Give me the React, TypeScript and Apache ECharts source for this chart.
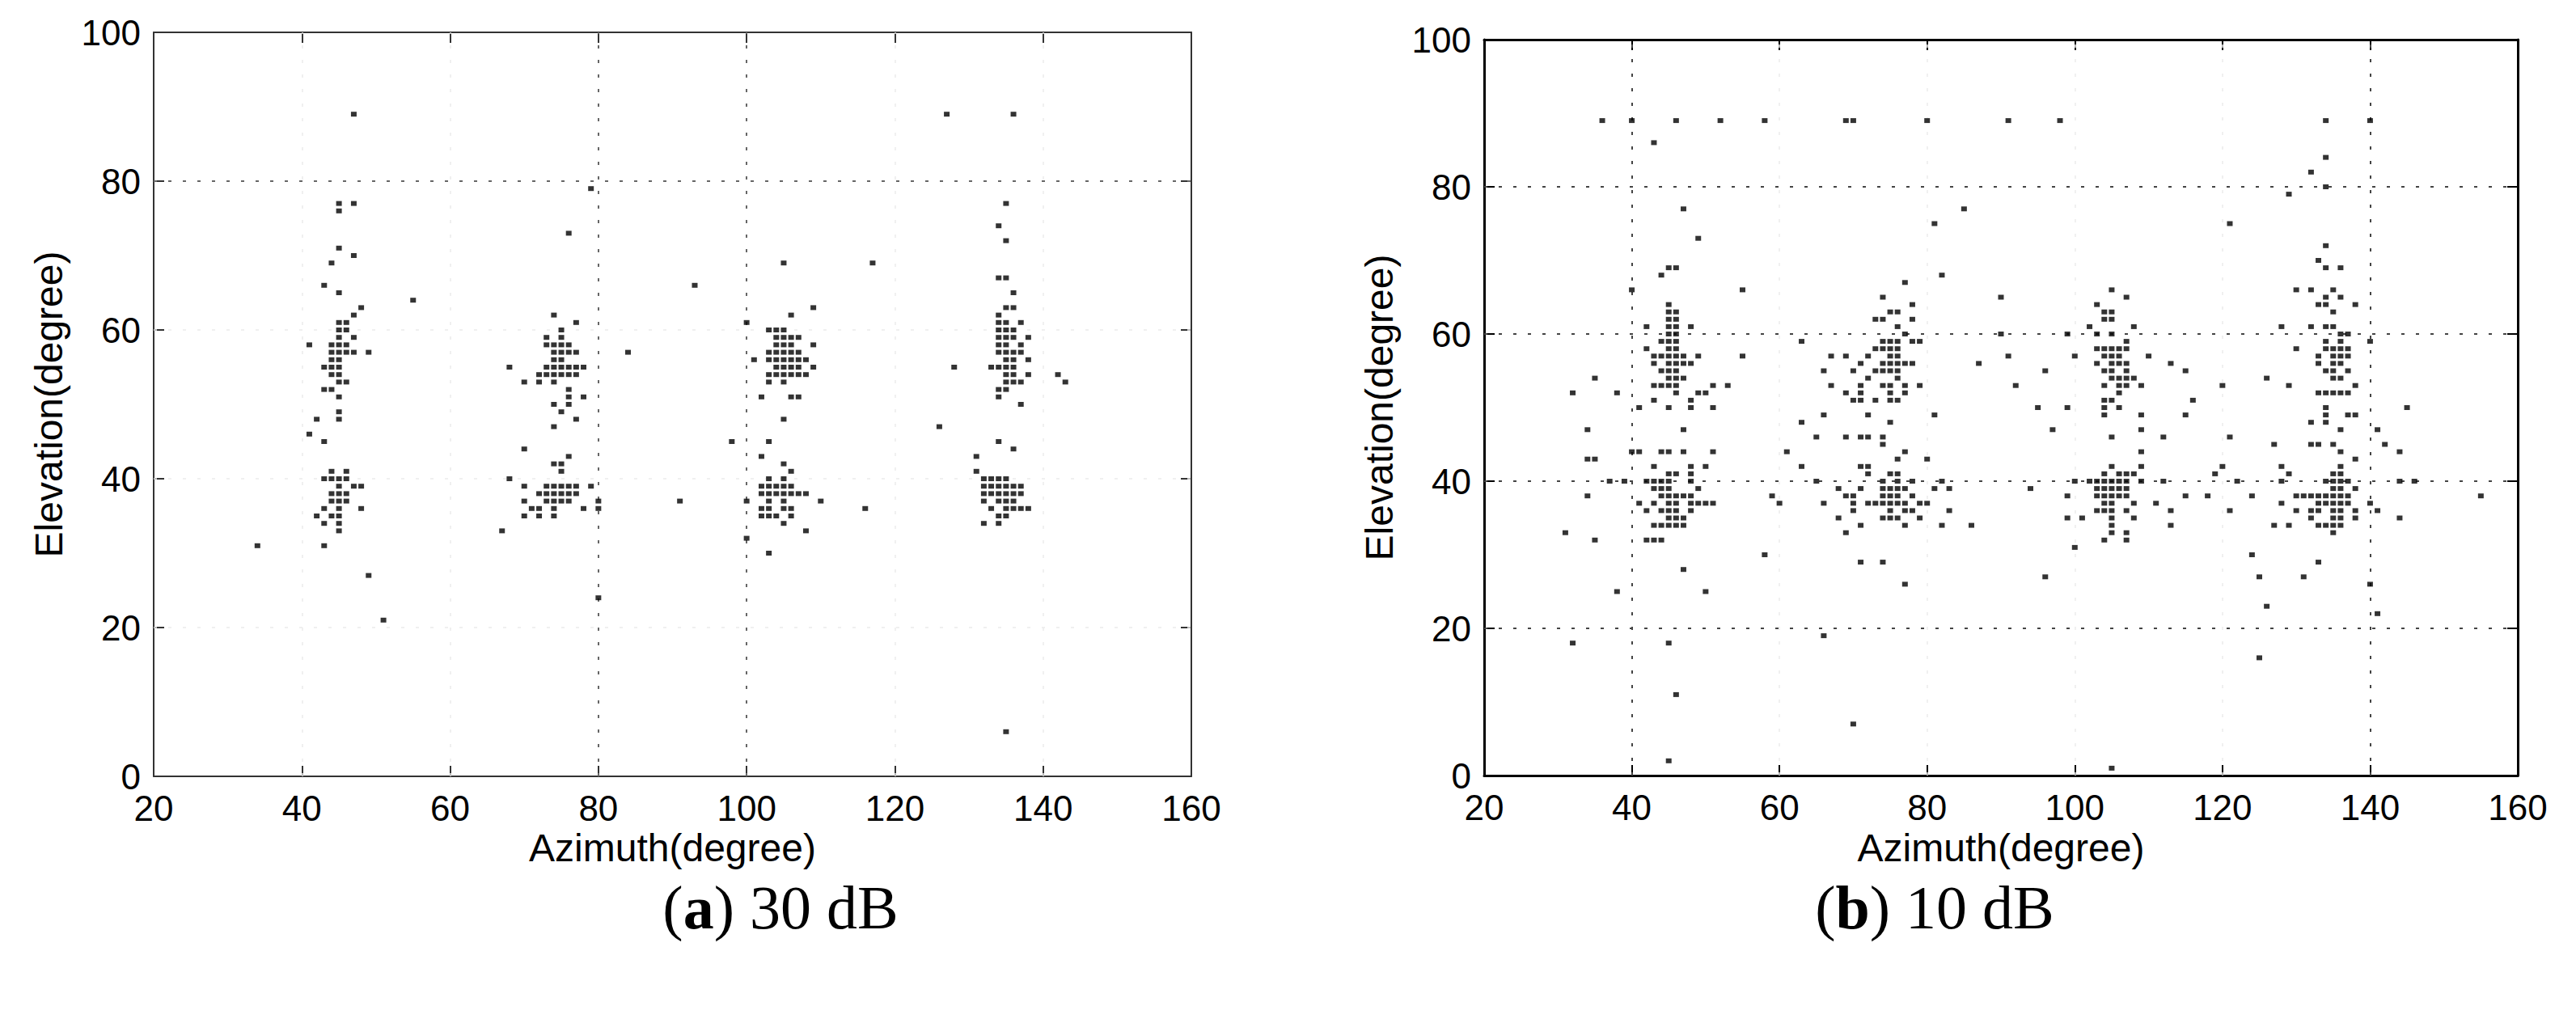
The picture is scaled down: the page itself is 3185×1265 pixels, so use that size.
import React, { useEffect, useRef } from "react";
import * as echarts from "echarts";

// ---------- data ----------
const azimuthTicks = [20, 40, 60, 80, 100, 120, 140, 160];
const elevationTicks = [0, 20, 40, 60, 80, 100];
const xAxisName = "Azimuth(degree)";
const yAxisName = "Elevation(degree)";
const captionLetters = ["a", "b"];
const captionSnr = ["30 dB", "10 dB"];

// (a) 30 dB : [azimuth, elevation]
const points30dB: number[][] = [
  [47,89],[45,77],[45,76],[47,77],[45,71],[47,70],[44,69],[43,66],[45,65],[55,64],[48,63],[47,62],[45,61],[46,61],[45,60],[46,60],[45,59],[47,59],[41,58],[44,58],[45,58],[46,58],[44,57],[45,57],[46,57],[47,57],[49,57],[44,56],[45,56],[43,55],[44,55],[45,55],[44,54],[45,54],[45,53],[46,53],[43,52],[44,52],[45,51],[45,49],[45,48],[42,48],[41,46],[43,45],[44,41],[46,41],[43,40],[44,40],[45,40],[46,40],[45,39],[47,39],[48,39],[44,38],[45,38],[46,38],[44,37],[45,37],[46,37],[43,36],[45,36],[48,36],[42,35],[44,35],[45,35],[43,34],[45,34],[45,33],[34,31],[43,31],[49,27],[51,21],
  [79,79],[76,73],[93,66],[74,62],[77,61],[75,60],[73,59],[75,59],[73,58],[74,58],[75,58],[76,58],[74,57],[75,57],[76,57],[77,57],[84,57],[74,56],[75,56],[68,55],[73,55],[74,55],[75,55],[76,55],[77,55],[78,55],[72,54],[73,54],[74,54],[75,54],[76,54],[77,54],[70,53],[72,53],[74,53],[76,52],[76,51],[78,51],[74,50],[76,50],[75,49],[77,48],[74,47],[70,44],[76,43],[74,42],[75,42],[75,41],[68,40],[70,39],[73,39],[74,39],[75,39],[76,39],[77,39],[79,39],[72,38],[73,38],[74,38],[75,38],[76,38],[77,38],[70,37],[73,37],[74,37],[75,37],[76,37],[80,37],[91,37],[71,36],[72,36],[74,36],[78,36],[80,36],[70,35],[72,35],[74,35],[67,33],[80,24],
  [127,89],[105,69],[117,69],[109,63],[106,62],[100,61],[103,60],[104,60],[105,60],[104,59],[105,59],[106,59],[107,59],[109,58],[104,58],[105,58],[106,58],[103,57],[104,57],[105,57],[106,57],[107,57],[101,56],[103,56],[104,56],[105,56],[106,56],[107,56],[108,56],[104,55],[105,55],[106,55],[107,55],[109,55],[103,54],[104,54],[105,54],[106,54],[107,54],[108,54],[103,53],[105,53],[102,51],[106,51],[107,51],[105,48],[126,47],[98,45],[103,45],[102,43],[105,42],[106,41],[103,40],[105,40],[102,39],[103,39],[104,39],[105,39],[106,39],[102,38],[103,38],[104,38],[105,38],[106,38],[107,38],[108,38],[100,37],[103,37],[105,37],[110,37],[102,36],[103,36],[105,36],[106,36],[116,36],[102,35],[103,35],[104,35],[106,35],[105,34],[108,33],[100,32],[103,30],
  [136,89],[135,77],[134,74],[135,72],[134,67],[135,67],[136,65],[135,63],[136,63],[134,62],[134,61],[135,61],[137,61],[134,60],[135,60],[136,60],[134,59],[135,59],[136,59],[138,59],[134,58],[135,58],[137,58],[134,57],[135,57],[136,57],[137,57],[135,56],[136,56],[138,56],[128,55],[133,55],[134,55],[135,55],[136,55],[135,54],[136,54],[138,54],[142,54],[135,53],[136,53],[137,53],[143,53],[134,52],[135,52],[134,51],[137,50],[134,45],[136,44],[131,43],[131,41],[132,40],[133,40],[134,40],[135,40],[132,39],[133,39],[134,39],[135,39],[136,39],[137,39],[132,38],[133,38],[134,38],[135,38],[136,38],[137,38],[132,37],[134,37],[135,37],[136,37],[133,36],[135,36],[136,36],[137,36],[138,36],[134,35],[135,35],[132,34],[134,34],[135,6],
];

// (b) 10 dB : [azimuth, elevation]
const points10dB: number[][] = [
  [36,89],[40,89],[46,89],[52,89],[58,89],[43,86],[47,77],[49,73],[45,69],[46,69],[44,68],[40,66],[55,66],
  [45,64],[45,63],[46,63],[45,62],[46,62],[42,61],[45,61],[46,61],[48,61],[45,60],[46,60],[44,59],[45,59],[46,59],[63,59],
  [42,58],[45,58],[46,58],[43,57],[44,57],[45,57],[46,57],[47,57],[49,57],[55,57],[43,56],[45,56],[46,56],[47,56],[48,56],
  [44,55],[45,55],[46,55],[35,54],[45,54],[46,54],[47,54],[43,53],[44,53],[45,53],[46,53],[51,53],[53,53],
  [32,52],[38,52],[46,52],[49,52],[50,52],[43,51],[48,51],[41,50],[45,50],[48,50],[51,50],
  [34,47],[47,47],[40,44],[41,44],[44,44],[45,44],[47,44],[51,44],[61,44],[34,43],[35,43],[43,42],[48,42],[50,42],
  [45,41],[46,41],[48,41],[37,40],[39,40],[42,40],[43,40],[44,40],[45,40],[48,40],[43,39],[44,39],[45,39],[49,39],
  [34,38],[44,38],[45,38],[46,38],[47,38],[48,38],[59,38],[41,37],[43,37],[45,37],[46,37],[48,37],[49,37],[50,37],[51,37],[60,37],
  [42,36],[44,36],[45,36],[46,36],[48,36],[45,35],[46,35],[47,35],[43,34],[44,34],[45,34],[46,34],[47,34],[31,33],
  [35,32],[42,32],[43,32],[44,32],[58,30],[47,28],[38,25],[50,25],[32,18],[45,18],[46,11],[45,2],
  [69,89],[70,89],[80,89],[91,89],[98,89],[85,77],[81,75],[82,68],[77,67],[74,65],[90,65],[105,66],[103,64],[107,65],
  [78,64],[75,63],[76,63],[104,63],[105,63],[73,62],[74,62],[78,62],[104,62],[105,62],[76,61],[102,61],[108,61],
  [77,60],[90,60],[99,60],[103,60],[105,60],[74,59],[75,59],[76,59],[78,59],[79,59],[107,59],
  [73,58],[74,58],[75,58],[76,58],[103,58],[104,58],[105,58],[106,58],[107,58],
  [67,57],[69,57],[72,57],[75,57],[76,57],[91,57],[100,57],[104,57],[105,57],[106,57],
  [71,56],[74,56],[75,56],[76,56],[77,56],[78,56],[87,56],[103,56],[105,56],[106,56],[107,56],
  [66,55],[70,55],[73,55],[74,55],[75,55],[76,55],[96,55],[104,55],[105,55],[107,55],
  [72,54],[76,54],[105,54],[106,54],[107,54],[108,54],
  [67,53],[71,53],[74,53],[75,53],[77,53],[79,53],[92,53],[104,53],[106,53],[107,53],[109,53],
  [69,52],[71,52],[75,52],[77,52],[106,52],[70,51],[71,51],[73,51],[75,51],[76,51],[104,51],[105,51],
  [95,50],[99,50],[104,50],[106,50],
  [66,49],[72,49],[81,49],[104,49],[109,49],[63,48],[75,48],[97,47],[109,47],
  [65,46],[69,46],[71,46],[72,46],[74,46],[105,46],[74,45],[77,44],[109,44],[76,43],[80,43],
  [63,42],[71,42],[72,42],[105,42],[109,42],[72,41],[75,41],[76,41],[104,41],[106,41],[107,41],[108,41],
  [65,40],[74,40],[76,40],[78,40],[82,40],[100,40],[102,40],[103,40],[104,40],[105,40],[106,40],[107,40],[109,40],
  [68,39],[71,39],[74,39],[75,39],[76,39],[77,39],[81,39],[83,39],[94,39],[103,39],[104,39],[105,39],[106,39],[107,39],
  [69,38],[70,38],[74,38],[75,38],[76,38],[78,38],[99,38],[103,38],[104,38],[105,38],[106,38],[107,38],
  [66,37],[70,37],[72,37],[73,37],[74,37],[75,37],[76,37],[77,37],[79,37],[80,37],[104,37],[105,37],[108,37],
  [70,36],[75,36],[77,36],[78,36],[83,36],[103,36],[104,36],[105,36],[107,36],
  [68,35],[74,35],[75,35],[76,35],[79,35],[99,35],[101,35],[105,35],[108,35],
  [71,34],[77,34],[82,34],[86,34],[105,34],[69,33],[105,33],[107,33],[104,32],[107,32],[100,31],
  [71,29],[74,29],[96,27],[77,26],[66,19],[70,7],[105,1],
  [134,89],[140,89],[134,84],[132,82],[134,80],[129,79],[121,75],[134,72],[133,70],[134,69],[136,69],
  [130,66],[132,66],[135,66],[134,65],[136,65],[133,64],[134,64],[138,64],[135,63],
  [128,61],[132,61],[134,61],[135,61],[136,60],[137,60],[134,59],[136,59],[140,59],
  [130,58],[134,58],[135,58],[136,58],[137,58],[110,57],[133,57],[135,57],[136,57],[137,57],
  [113,56],[133,56],[135,56],[136,56],[115,55],[134,55],[135,55],[137,55],[126,54],[135,54],[136,54],
  [120,53],[129,53],[138,53],[133,52],[134,52],[135,52],[136,52],[137,52],[116,51],[134,50],[145,50],
  [115,49],[134,49],[137,49],[138,49],[132,48],[134,48],[136,47],[141,47],[112,46],[121,46],
  [127,45],[132,45],[133,45],[135,45],[142,45],[136,44],[144,44],[138,43],[120,42],[128,42],[136,42],
  [119,41],[129,41],[135,41],[136,41],
  [112,40],[122,40],[128,40],[134,40],[135,40],[136,40],[137,40],[144,40],[146,40],[135,39],[136,39],[138,39],
  [115,38],[118,38],[124,38],[130,38],[131,38],[132,38],[133,38],[134,38],[135,38],[136,38],[137,38],[155,38],
  [111,37],[128,37],[133,37],[134,37],[135,37],[136,37],[137,37],[140,37],
  [113,36],[121,36],[130,36],[132,36],[133,36],[135,36],[136,36],[138,36],[141,36],
  [132,35],[135,35],[136,35],[138,35],[144,35],[113,34],[127,34],[129,34],[133,34],[134,34],[135,34],[136,34],
  [135,33],[124,30],[133,29],[125,27],[131,27],[140,26],[126,23],[141,22],[125,16],
];

// grid lines that render visibly (dotted) vs faintly in each panel
const darkGridX30 = [80, 100];
const darkGridY30 = [80];
const darkGridX10 = [40, 140];
const darkGridY10 = [20, 40, 60, 80];

const SANS = "'Liberation Sans', Arial, Helvetica, sans-serif";
const SERIF = "'Liberation Serif', 'Times New Roman', serif";

type Panel = {
  left: number; top: number; width: number; height: number;
  axisColor: string; axisWidth: number; darkColor: string;
  darkX: number[]; darkY: number[]; data: number[][]; captionX: number;
};

const panels: Panel[] = [
  { left: 190, top: 40, width: 1283, height: 920, axisColor: "#333", axisWidth: 2, darkColor: "#666",
    darkX: darkGridX30, darkY: darkGridY30, data: points30dB, captionX: 965 },
  { left: 1835, top: 49, width: 1278, height: 910, axisColor: "#000", axisWidth: 3, darkColor: "#444",
    darkX: darkGridX10, darkY: darkGridY10, data: points10dB, captionX: 2392 },
];

export default function App() {
  const ref = useRef<HTMLDivElement>(null);
  useEffect(() => {
    if (!ref.current) return;
    const chart = echarts.init(ref.current, null, { renderer: "svg" });
    const xMin = azimuthTicks[0], xMax = azimuthTicks[azimuthTicks.length - 1];
    const yMin = elevationTicks[0], yMax = elevationTicks[elevationTicks.length - 1];
    const xStep = azimuthTicks[1] - azimuthTicks[0];
    const yStep = elevationTicks[1] - elevationTicks[0];

    const grids: any[] = [];
    const xAxes: any[] = [];
    const yAxes: any[] = [];
    const series: any[] = [];
    const graphics: any[] = [];

    panels.forEach((p, i) => {
      grids.push({ left: p.left, top: p.top, width: p.width, height: p.height, containLabel: false });
      const line = { show: true, onZero: false, lineStyle: { color: p.axisColor, width: p.axisWidth } };
      const tick = { show: true, inside: true, length: 13, lineStyle: { color: p.axisColor, width: 2 } };
      const xLabel = { show: true, color: "#000", fontFamily: SANS, fontSize: 44, lineHeight: 30, margin: 24 };
      const yLabel = { show: true, color: "#000", fontFamily: SANS, fontSize: 44, lineHeight: 30, margin: 16 };
      xAxes.push({ gridIndex: i, type: "value", position: "bottom", min: xMin, max: xMax, interval: xStep,
        axisLine: line, axisTick: tick, axisLabel: xLabel, splitLine: { show: false } });
      xAxes.push({ gridIndex: i, type: "value", position: "top", min: xMin, max: xMax, interval: xStep,
        axisLine: line, axisTick: tick, axisLabel: { show: false }, splitLine: { show: false } });
      yAxes.push({ gridIndex: i, type: "value", position: "left", min: yMin, max: yMax, interval: yStep,
        axisLine: line, axisTick: tick, axisLabel: yLabel, splitLine: { show: false } });
      yAxes.push({ gridIndex: i, type: "value", position: "right", min: yMin, max: yMax, interval: yStep,
        axisLine: line, axisTick: tick, axisLabel: { show: false }, splitLine: { show: false } });

      const faint = "#ebebeb";
      const mlData: any[] = [];
      azimuthTicks.slice(1, -1).forEach((v) => {
        const dark = p.darkX.includes(v);
        mlData.push({ xAxis: v, lineStyle: { color: dark ? p.darkColor : faint, width: dark ? 2 : 1.5, type: [4, 14] } });
      });
      elevationTicks.slice(1, -1).forEach((v) => {
        const dark = p.darkY.includes(v);
        mlData.push({ yAxis: v, lineStyle: { color: dark ? p.darkColor : faint, width: dark ? 2 : 1.5, type: [4, 14] } });
      });

      series.push({
        type: "scatter", xAxisIndex: i * 2, yAxisIndex: i * 2, data: p.data,
        symbol: "rect", symbolSize: [7, 6], itemStyle: { color: "#000" }, z: 5,
        markLine: { silent: true, symbol: ["none", "none"], label: { show: false }, z: 1, data: mlData },
      });

      const cx = p.left + p.width / 2;
      graphics.push({ type: "text", x: cx, y: 1048, style: { text: xAxisName, fontFamily: SANS, fontSize: 48, lineHeight: 40, fill: "#000", align: "center", verticalAlign: "middle" } });
      graphics.push({ type: "text", x: p.left - 130, y: p.top + p.height / 2, rotation: Math.PI / 2,
        style: { text: yAxisName, fontFamily: SANS, fontSize: 48, fill: "#000", align: "center", verticalAlign: "middle" } });
      graphics.push({ type: "text", x: p.captionX, y: 1122,
        style: { text: "({b|" + captionLetters[i] + "}) " + captionSnr[i], fontFamily: SERIF, fontSize: 76, fill: "#000",
          align: "center", verticalAlign: "middle",
          rich: { b: { fontFamily: SERIF, fontSize: 76, fontWeight: "bold", fill: "#000" } } } });
    });

    chart.setOption({
      animation: false,
      backgroundColor: "#fff",
      grid: grids,
      xAxis: xAxes,
      yAxis: yAxes,
      series,
      graphic: graphics,
    });
    return () => chart.dispose();
  }, []);
  return <div ref={ref} style={{ position: "fixed", left: 0, top: 0, width: 3185, height: 1265, background: "#fff" }} />;
}
